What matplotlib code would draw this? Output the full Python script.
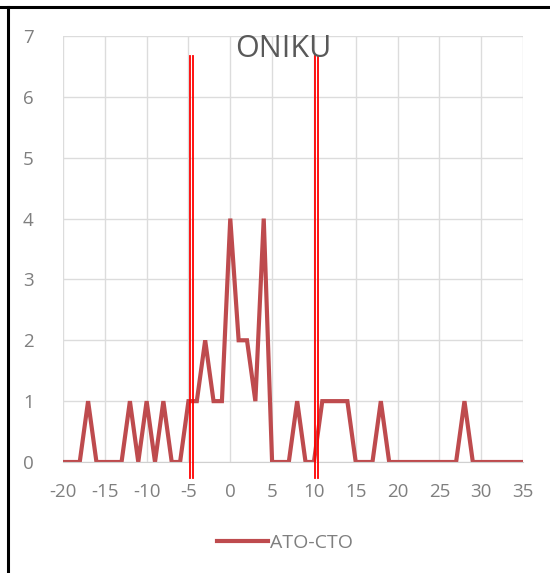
import matplotlib
matplotlib.use("Agg")
import matplotlib.pyplot as plt
from matplotlib.lines import Line2D

# data
x_vals = list(range(-20, 36))
ato_cto = [0, 0, 0, 1, 0, 0, 0, 0, 1, 0, 1, 0, 1, 0, 0, 1, 1, 2, 1, 1,
           4, 2, 2, 1, 4, 0, 0, 0, 1, 0, 0, 1, 1, 1, 1, 0, 0, 0, 1, 0,
           0, 0, 0, 0, 0, 0, 0, 0, 1, 0, 0, 0, 0, 0, 0, 0]
x_ticks = [-20, -15, -10, -5, 0, 5, 10, 15, 20, 25, 30, 35]
x_labels = ["-20", "-15", "-10", "-5", "0", "5", "10", "15", "20", "25", "30", "35"]
y_ticks = [0, 1, 2, 3, 4, 5, 6, 7]
marker_lines = [-4.6, 10.3]  # red double lines drawn on top
title = "ONIKU"
series_name = "ATO-CTO"

plt.rcParams['font.family'] = ['Open Sans', 'DejaVu Sans']
grey = "#7f7f7f"
line_col = "#BE4B4E"

fig = plt.figure(figsize=(5.5, 5.73), dpi=100)
ax = fig.add_axes([63/550, 1 - 462/573, 460/550, (462 - 36)/573])

ax.plot(x_vals, ato_cto, color=line_col, linewidth=3.0, solid_joinstyle="miter")
ax.set_xlim(-20, 35)
ax.set_ylim(0, 7)
ax.set_xticks(x_ticks)
ax.set_xticklabels(x_labels)
ax.set_yticks(y_ticks)
ax.tick_params(length=0, labelsize=13.5, colors=grey)
ax.tick_params(axis="x", pad=15)
ax.tick_params(axis="y", pad=21)
ax.grid(True, color="#dcdcdc", linewidth=1)
ax.set_axisbelow(True)
for s in ["top", "right", "left"]:
    ax.spines[s].set_visible(False)
ax.spines["bottom"].set_color("#d0d0d0")

# red vertical double lines
for xm in marker_lines:
    for off in (-0.2, 0.2):
        ax.plot([xm + off, xm + off], [-0.26, 6.67], color="red",
                linewidth=1.3, clip_on=False, zorder=5)

fig.text(283/550, 1 - 49/573, title, ha="center", va="center",
         fontsize=22, color="#595959")

handle = Line2D([], [], color=line_col, linewidth=3.0)
fig.legend([handle], [series_name], loc="center", bbox_to_anchor=(285/550, 1 - 543/573),
           frameon=False, fontsize=14, handlelength=2.6, handletextpad=0.1,
           labelcolor=grey)

# black border on left and top
fig.add_artist(Line2D([8/550, 8/550], [0, 1 - 7/573], color="black", linewidth=2.2))
fig.add_artist(Line2D([0, 1], [1 - 7/573, 1 - 7/573], color="black", linewidth=2.2))

fig.savefig("out.png", dpi=100)
